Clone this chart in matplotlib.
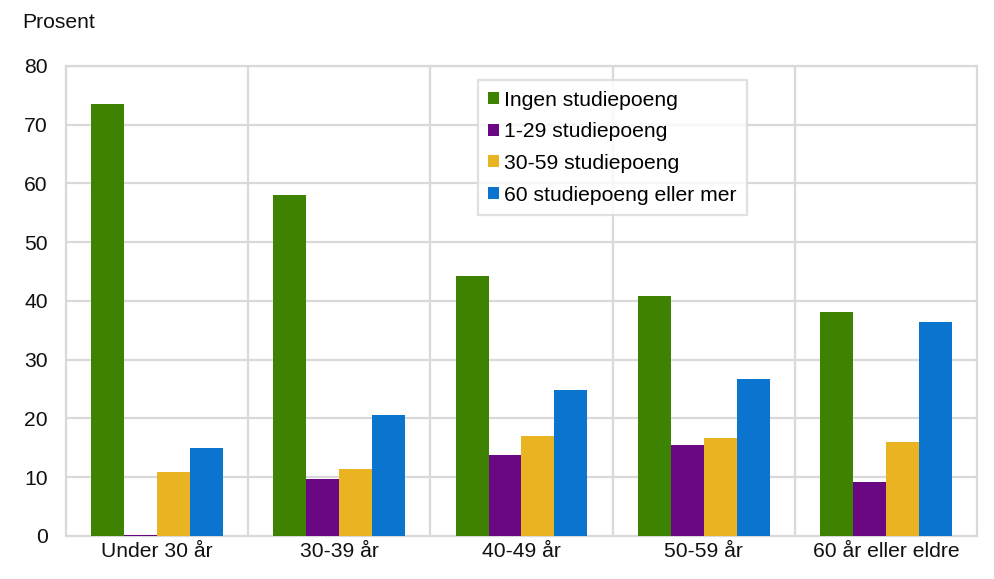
import matplotlib
matplotlib.use("Agg")
import matplotlib.pyplot as plt
import numpy as np

plt.rcParams["font.family"] = ["Liberation Sans", "DejaVu Sans"]

CATEGORIES = ["Under 30 år", "30-39 år", "40-49 år", "50-59 år", "60 år eller eldre"]
SERIES = [
    "Ingen studiepoeng",
    "1-29 studiepoeng",
    "30-59 studiepoeng",
    "60 studiepoeng eller mer",
]
INGEN = [73.6, 58.0, 44.2, 40.9, 38.1]
P1_29 = [0.2, 9.7, 13.7, 15.5, 9.2]
P30_59 = [10.9, 11.4, 17.0, 16.7, 16.0]
P60 = [15.0, 20.6, 24.8, 26.8, 36.4]
COLORS = ["#3e8201", "#690882", "#eab322", "#0a74cf"]

GRID = "#d9d9d9"
FS = 15.2

fig = plt.figure(figsize=(9.95, 5.79), dpi=100)
ax = fig.add_axes([0.0663, 0.0743, 0.9156, 0.8118])

x = np.arange(len(CATEGORIES))
width = 0.181
for i, (vals, name, col) in enumerate(zip([INGEN, P1_29, P30_59, P60], SERIES, COLORS)):
    ax.bar(x + (i - 1.5) * width, vals, width, color=col, label=name, zorder=3)

ax.set_xlim(-0.5, len(CATEGORIES) - 0.5)
ax.set_ylim(0, 80)
ax.set_yticks(range(0, 81, 10))
ax.set_xticks(x)
ax.set_xticklabels(CATEGORIES)

# grid: horizontal at ticks, vertical at category boundaries
for y in range(10, 81, 10):
    ax.axhline(y, color=GRID, lw=1.6, zorder=1)
for b in np.arange(0.5, len(CATEGORIES) - 0.5, 1):
    ax.axvline(b, color=GRID, lw=1.6, zorder=1)

for s in ax.spines.values():
    s.set_color(GRID)
    s.set_linewidth(1.6)
ax.tick_params(length=0, labelsize=FS, colors="#111111")
ax.tick_params(axis="y", pad=13)
ax.tick_params(axis="x", pad=4)

fig.text(0.022, 0.962, "Prosent", fontsize=FS, va="center", ha="left", color="#111111")

leg = ax.legend(
    loc="upper left",
    bbox_to_anchor=(0.452, 0.970),
    borderaxespad=0,
    fontsize=FS,
    frameon=True,
    fancybox=False,
    edgecolor=GRID,
    handlelength=0.5,
    handleheight=0.5,
    handletextpad=0.25,
    labelspacing=0.6,
    borderpad=0.5,
)
leg.get_frame().set_linewidth(1.6)
leg.set_zorder(5)

fig.savefig("out.png", dpi=100)
